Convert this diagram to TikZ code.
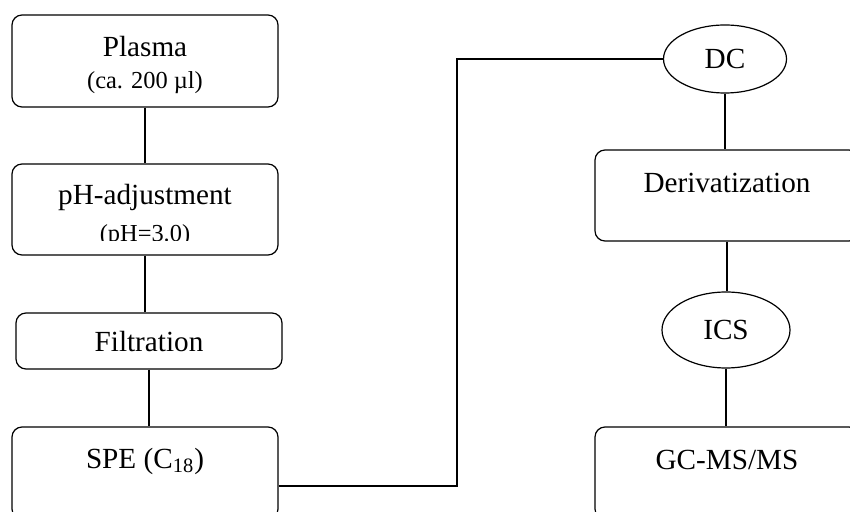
\documentclass[tikz,border=0pt]{standalone}
\usepackage{fontspec}
\setmainfont{Liberation Serif}
\usetikzlibrary{positioning,shapes.geometric}

\begin{document}
\begin{tikzpicture}[x=0.5pt,y=-0.5pt,line width=0.6pt,
    stepbox/.style={draw,rounded corners=5pt,minimum width=133pt,minimum height=46pt,inner sep=0pt},
    stepoval/.style={draw,ellipse,inner sep=0pt,font=\fontsize{14.6}{17}\selectfont},
    steptext/.style={inner sep=0pt,font=\fontsize{14.6}{17}\selectfont},
    subtext/.style={inner sep=0pt,font=\fontsize{12.2}{14}\selectfont}]
    \clip (0,0) rectangle (850,512);

    % left column
    \node[stepbox] (plasma) at (145,61) {};
    \node[steptext] (plasmatext) at (145,47) {Plasma};
    \node[subtext] (plasmasub) at (145,83) {(ca. 200 µl)};

    \node[stepbox,minimum height=45.5pt] (ph) at (145,209.5) {};
    \node[steptext] (phtext) at (145,197) {pH-adjustment};
    \begin{scope}
        \clip (12,164) rectangle (278,241);
        \node[subtext] (phsub) at (145,236) {(pH=3.0)};
    \end{scope}

    \node[stepbox,minimum height=28pt] (filt) at (149,341) {};
    \node[steptext] (filttext) at (149,342) {Filtration};

    \node[stepbox] (spe) at (145,473) {};
    \node[steptext] (spetext) at (145,461) {SPE (C\textsubscript{18})};

    % right column
    \node[stepoval,minimum width=61.5pt,minimum height=34pt] (dc) at (725,59) {DC};
    \node[stepbox,minimum width=132pt,minimum height=45.5pt] (deriv) at (727,195.5) {};
    \node[steptext] (derivtext) at (727,183) {Derivatization};
    \node[stepoval,minimum width=64pt,minimum height=38pt] (ics) at (726,330) {ICS};
    \node[stepbox,minimum width=132pt] (gcms) at (727,473) {};
    \node[steptext] (gcmstext) at (727,460) {GC-MS/MS};

    \coordinate (bend) at (457,0);

    \draw (plasma.south) -- (ph.north);
    \draw (ph.south) -- (ph.south |- filt.north);
    \draw (filt.south) -- (filt.south |- spe.north);
    \draw ([yshift=-6.5pt]spe.east) -| (bend |- dc.west) -- (dc.west);
    \draw (dc.south) -- (dc.south |- deriv.north);
    \draw (deriv.south) -- (deriv.south |- ics.north);
    \draw (ics.south) -- (ics.south |- gcms.north);
\end{tikzpicture}
\end{document}
